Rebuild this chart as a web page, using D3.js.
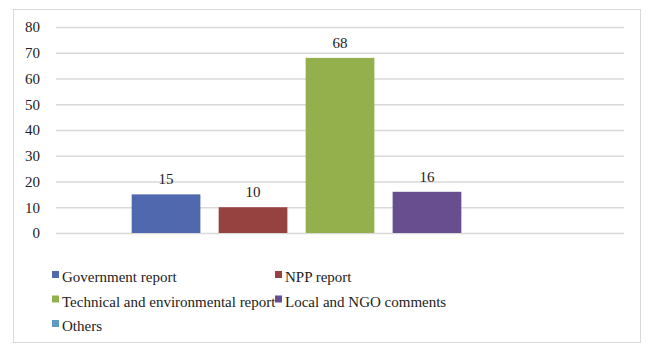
<!DOCTYPE html>
<html>
<head>
<meta charset="utf-8">
<script src="https://cdn.jsdelivr.net/npm/d3@7"></script>
<style>
  body { margin: 0; background: #fff; }
</style>
</head>
<body>
<svg id="chart" width="647" height="344"></svg>
<script>
// data
var series = ["Government report", "NPP report", "Technical and environmental report",
    "Local and NGO comments", "Others"];
var values = [15, 10, 68, 16, 0];
var colors = ["#5068ae", "#964241", "#94b04d", "#684d8f", "#5b9bc4"];
var yTicks = [0, 10, 20, 30, 40, 50, 60, 70, 80];

var serif = "'Liberation Serif'";
var plot = {left: 56, right: 624, top: 27, bottom: 233};

var svg = d3.select("#chart");

// outer frame
svg.append("rect")
    .attr("x", 13.5).attr("y", 9.5)
    .attr("width", 627).attr("height", 333)
    .attr("fill", "#fff")
    .attr("stroke", "#d9d9d9");

var x = d3.scaleBand()
    .domain(series)
    .range([plot.left, plot.right])
    .paddingInner(0.21)
    .paddingOuter(0.87);

var y = d3.scaleLinear()
    .domain([0, 80])
    .range([plot.bottom, plot.top]);

// gridlines + tick labels
var yAxis = d3.axisLeft(y)
    .tickValues(yTicks)
    .tickSize(-(plot.right - plot.left))
    .tickPadding(16);

var gy = svg.append("g")
    .attr("transform", "translate(" + plot.left + ",0)")
    .call(yAxis);
gy.select(".domain").remove();
gy.selectAll(".tick line").attr("stroke", "#d9d9d9").attr("stroke-width", 1.3);
gy.selectAll(".tick text")
    .style("font-family", serif)
    .style("font-size", "15px")
    .attr("fill", "#222");

// bars
svg.append("g").selectAll("rect")
    .data(values)
    .enter().append("rect")
    .attr("x", function(d, i) { return x(series[i]); })
    .attr("y", function(d) { return y(d); })
    .attr("width", x.bandwidth())
    .attr("height", function(d) { return y(0) - y(d); })
    .attr("fill", function(d, i) { return colors[i]; });

// value labels (zero bar has none)
svg.append("g").selectAll("text")
    .data(values.filter(function(d) { return d > 0; }))
    .enter().append("text")
    .attr("x", function(d) { return x(series[values.indexOf(d)]) + x.bandwidth() / 2; })
    .attr("y", function(d) { return y(d) - 10; })
    .attr("text-anchor", "middle")
    .style("font-family", serif)
    .style("font-size", "15px")
    .attr("fill", "#222")
    .text(function(d) { return d; });

// legend, two columns
var legend = svg.append("g").selectAll("g")
    .data(series)
    .enter().append("g")
    .attr("transform", function(d, i) {
        var col = i % 2, row = Math.floor(i / 2);
        return "translate(" + (col === 0 ? 52 : 275) + "," + (277 + row * 24.5) + ")";
    });

legend.append("rect")
    .attr("x", 0).attr("y", -6)
    .attr("width", 7).attr("height", 7)
    .attr("fill", function(d, i) { return colors[i]; });

legend.append("text")
    .attr("x", 10)
    .attr("y", 0)
    .attr("dy", "0.35em")
    .style("font-family", serif)
    .style("font-size", "15px")
    .attr("fill", "#222")
    .text(function(d) { return d; });
</script>
</body>
</html>
